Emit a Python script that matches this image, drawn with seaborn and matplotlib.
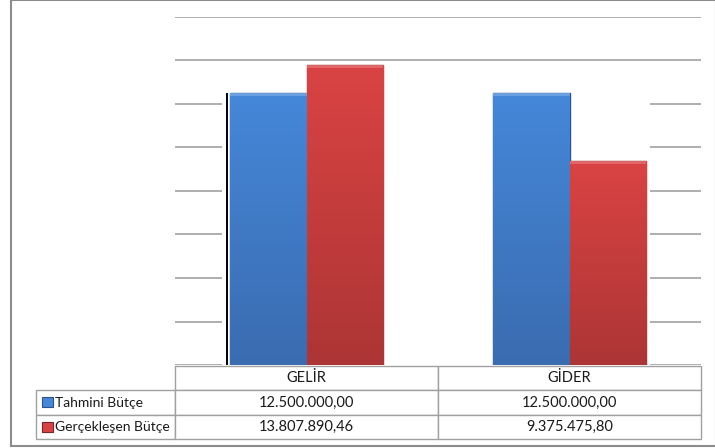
import numpy as np
import pandas as pd
import matplotlib
matplotlib.use("Agg")
import matplotlib.pyplot as plt
from matplotlib.patches import Rectangle
from matplotlib.colors import LinearSegmentedColormap
import seaborn as sns

# data
categories = ["GELİR", "GİDER"]
series = ["Tahmini Bütçe", "Gerçekleşen Bütçe"]
tahmini = [12500000.00, 12500000.00]
gerceklesen = [13807890.46, 9375475.80]
y_ticks = [0, 2e6, 4e6, 6e6, 8e6, 10e6, 12e6, 14e6, 16e6]

# colours: (top, bottom, edge)
shades = {
    "Tahmini Bütçe": ("#4587d9", "#3a6cb0", "#2c5488"),
    "Gerçekleşen Bütçe": ("#da4343", "#ad3535", "#7e2424"),
}

sns.set_style("white")
plt.rcParams['font.family'] = ['Lato', 'DejaVu Sans']

W, H = 715, 448


def fx(px):
    return px / W


def fy(py):
    return 1 - py / H


def tr_money(v):
    s = f"{v:,.2f}"
    return s.replace(",", "X").replace(".", ",").replace("X", ".")


df = pd.DataFrame({
    "kategori": categories * 2,
    "seri": [series[0]] * 2 + [series[1]] * 2,
    "tutar": tahmini + gerceklesen,
})

fig = plt.figure(figsize=(7.15, 4.48), dpi=100)
ax = fig.add_axes([fx(175), fy(365), (701 - 175) / W, 348 / H])

sns.barplot(data=df, x="kategori", y="tutar", hue="seri", hue_order=series,
            palette={k: v[0] for k, v in shades.items()}, width=0.578,
            saturation=1, legend=False, ax=ax, zorder=2)

ax.set_xlim(-0.5, 1.5)
ax.set_ylim(0, 16e6)
ax.set_yticks(y_ticks)
ax.set_axisbelow(True)
ax.yaxis.grid(True, color="#a8a8a8", linewidth=1.3)
ax.xaxis.grid(False)
ax.tick_params(left=False, bottom=False, labelleft=False, labelbottom=False)
ax.set_xlabel("")
ax.set_ylabel("")
for sp in ax.spines.values():
    sp.set_visible(False)

# gradient fill on each bar
bars = list(ax.patches)
hue_of_bar = [series[0]] * 2 + [series[1]] * 2
for p, s in zip(bars, hue_of_bar):
    top, bot, edge = shades[s]
    cmap = LinearSegmentedColormap.from_list("g", [bot, top])
    x0, y0 = p.get_x(), p.get_y()
    w, h = p.get_width(), p.get_height()
    grad = np.linspace(0, 1, 256).reshape(-1, 1)
    im = ax.imshow(grad, extent=[x0, x0 + w, y0, y0 + h], origin="lower",
                   aspect="auto", cmap=cmap, zorder=2.1)
    im.set_clip_path(p)
    p.set_edgecolor(edge)
    p.set_linewidth(1.0)
    # light bevel on top
    ax.add_patch(Rectangle((x0, y0 + h - 0.15e6), w, 0.15e6, facecolor="white",
                           alpha=0.2, edgecolor="none", zorder=2.2))
ax.set_xlim(-0.5, 1.5)
ax.set_ylim(0, 16e6)

# white backdrop hiding the lower gridlines between the bars
left_bar = bars[0]
right_bar = bars[3]
mask_x0 = left_bar.get_x() - 0.032
mask_x1 = right_bar.get_x() + right_bar.get_width() + 0.017
ax.add_patch(Rectangle((mask_x0, 0), mask_x1 - mask_x0, max(tahmini),
                       facecolor="white", edgecolor="none", zorder=1))
ax.plot([left_bar.get_x() - 0.012] * 2, [0, max(tahmini)], color="black",
        linewidth=1.4, zorder=1.5, solid_capstyle="butt")

# data table
cell_text = [[series[0]] + [tr_money(v) for v in tahmini],
             [series[1]] + [tr_money(v) for v in gerceklesen]]
col_w = np.array([139, 263, 263], dtype=float)
tbl = ax.table(cellText=cell_text, colLabels=[""] + categories,
               colWidths=list(col_w / col_w.sum()), cellLoc="center",
               bbox=[(36 - 175) / 526, (365 - 439) / 348,
                     (701 - 36) / 526, 73 / 348])
tbl.auto_set_font_size(False)
tbl.set_fontsize(10)
for (r, c), cell in tbl.get_celld().items():
    cell.set_edgecolor("#a0a0a0")
    cell.set_linewidth(1.0)
    cell.get_text().set_color("#1a1a1a")
    if r == 0 and c == 0:
        cell.set_visible(False)
    if c > 0:
        cell.get_text().set_fontsize(10.5)
    if c == 0 and r > 0:
        cell._loc = "left"
        cell.PAD = 19 / 139
        cell.get_text().set_horizontalalignment("left")

# legend keys in the table
for i, s in enumerate(series):
    top, bot, edge = shades[s]
    ypx = 407 + i * 25
    fig.add_artist(Rectangle((fx(42), fy(ypx)), 11 / W, 10 / H,
                             transform=fig.transFigure, facecolor=top,
                             edgecolor=edge, linewidth=0.8))

# outer frame
fig.add_artist(Rectangle((fx(10.5), fy(446)), (716 - 10.5) / W, 445.5 / H,
                         transform=fig.transFigure, facecolor="none",
                         edgecolor="#8c8c8c", linewidth=1.5))

fig.savefig("out.png", dpi=100)
